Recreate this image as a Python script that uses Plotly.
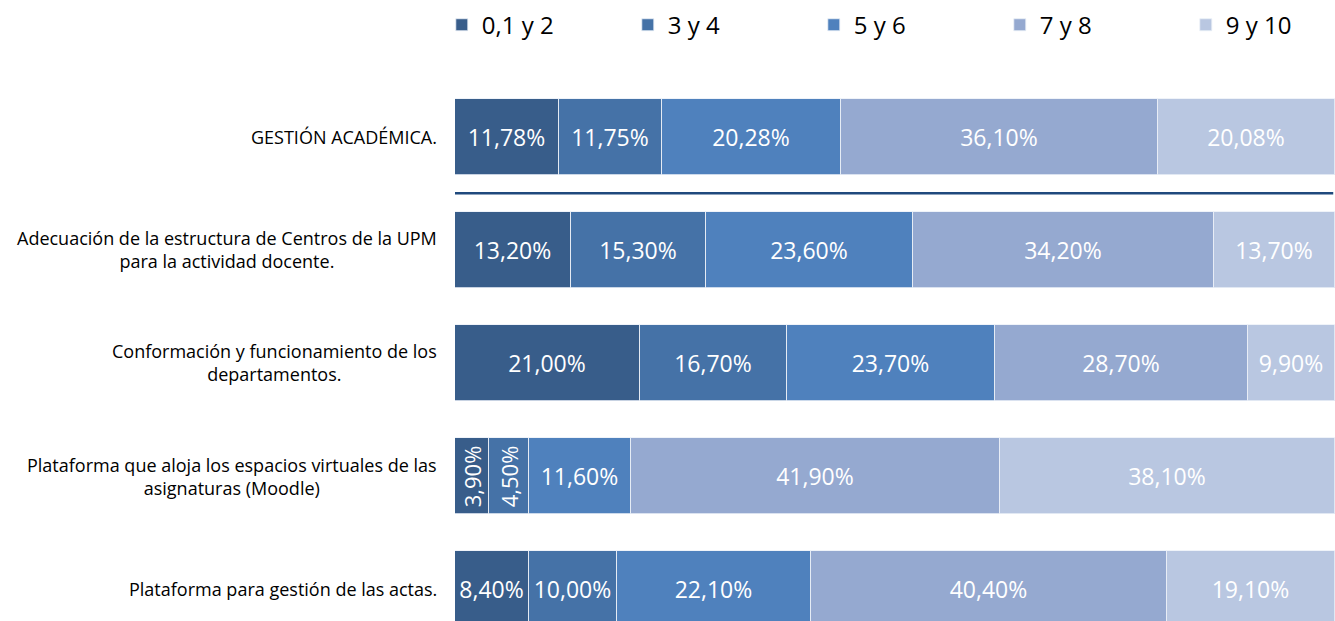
import plotly.graph_objects as go

categories = [
    "GESTIÓN ACADÉMICA.",
    "Adecuación de la estructura de Centros de la UPM<br>para la actividad docente.",
    "Conformación y funcionamiento de los<br>departamentos.",
    "Plataforma que aloja los espacios virtuales de las<br>asignaturas (Moodle)",
    "Plataforma para gestión de las actas.",
]
series_names = ["0,1 y 2", "3 y 4", "5 y 6", "7 y 8", "9 y 10"]
s_0_2 = [11.78, 13.20, 21.00, 3.90, 8.40]
s_3_4 = [11.75, 15.30, 16.70, 4.50, 10.00]
s_5_6 = [20.28, 23.60, 23.70, 11.60, 22.10]
s_7_8 = [36.10, 34.20, 28.70, 41.90, 40.40]
s_9_10 = [20.08, 13.70, 9.90, 38.10, 19.10]
series_values = [s_0_2, s_3_4, s_5_6, s_7_8, s_9_10]
colors = ["#385D8A", "#4572A7", "#4F81BD", "#95A9D0", "#B9C7E1"]

# rows whose small segments get vertical labels (row index -> series indices)
rotated = {3: [0, 1]}

def fmt(v):
    return f"{v:.2f}".replace(".", ",") + "%"

FONT = "Open Sans, Lato, sans-serif"
fig = go.Figure()
for si, (name, vals, col) in enumerate(zip(series_names, series_values, colors)):
    texts = []
    for ri, v in enumerate(vals):
        if ri in rotated and si in rotated[ri]:
            texts.append("")
        else:
            texts.append(fmt(v))
    fig.add_trace(go.Bar(
        name=name, y=categories, x=vals, orientation="h",
        marker=dict(color=col, line=dict(color="rgba(235,240,248,0.8)", width=1)),
        text=texts, textposition="inside", insidetextanchor="middle",
        textangle=0, constraintext="none",
        textfont=dict(color="white", size=23, family=FONT),
        width=0.67, hoverinfo="skip",
    ))

# rotated labels for narrow segments
for ri, sis in rotated.items():
    for si in sis:
        start = sum(series_values[k][ri] for k in range(si))
        mid = start + series_values[si][ri] / 2
        fig.add_annotation(x=mid, y=categories[ri], xref="x", yref="y",
                           text=fmt(series_values[si][ri]), textangle=-90,
                           showarrow=False,
                           font=dict(color="white", size=22, family=FONT))

# category labels (centered multi-line, right anchored)
for c in categories:
    fig.add_annotation(x=0, y=c, xref="paper", yref="y", xanchor="right",
                       xshift=-16, align="center", showarrow=False, text=c,
                       font=dict(color="#000000", size=18, family=FONT))

# separator line under first category
fig.add_shape(type="line", xref="paper", yref="y", x0=0, x1=0.998, y0=0.5, y1=0.5,
              line=dict(color="#1F497D", width=2.5))

fig.update_layout(
    width=1335, height=621,
    barmode="stack",
    bargap=0,
    margin=dict(l=455, r=0, t=80, b=0, autoexpand=False),
    plot_bgcolor="white", paper_bgcolor="white",
    showlegend=True,
    legend=dict(orientation="h", x=-0.015, xanchor="left", y=1.143, yanchor="top",
                entrywidth=141, entrywidthmode="pixels",
                font=dict(size=24, family=FONT, color="#000000"),
                itemclick=False, itemdoubleclick=False, traceorder="normal"),
    xaxis=dict(range=[0, 100], visible=False, fixedrange=True),
    yaxis=dict(categoryorder="array", categoryarray=categories,
               range=[4.28, -0.5], showticklabels=False, showgrid=False,
               zeroline=False, showline=False, fixedrange=True),
)
fig.write_html(
    "out.html",
    config={"displayModeBar": False},
    post_script="document.body.style.margin='0';document.body.style.overflow='hidden';",
)
